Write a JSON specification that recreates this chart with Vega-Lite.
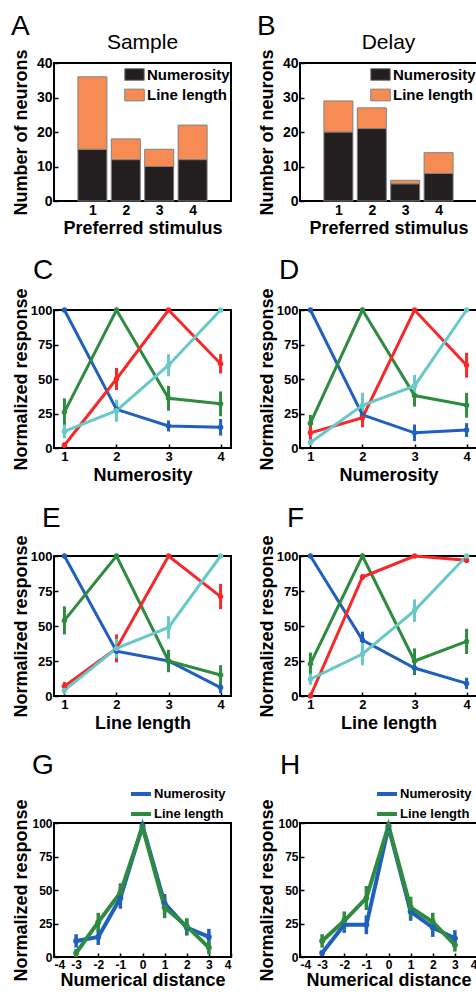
{
  "$schema": "https://vega.github.io/schema/vega-lite/v6.json",
  "background": "white",
  "padding": {"left": 10, "top": 12, "right": 0, "bottom": 0},
  "spacing": 18,
  "resolve": {"scale": {"color": "independent"}, "legend": {"color": "independent"}},
  "config": {
    "view": {"stroke": "black", "strokeWidth": 2},
    "font": "Liberation Sans",
    "title": {"font": "Liberation Sans", "fontSize": 28, "fontWeight": "normal", "anchor": "start", "frame": "bounds", "color": "black", "offset": 2},
    "axis": {"labelFont": "Liberation Sans", "labelFontWeight": "bold", "labelColor": "black", "titleFont": "Liberation Sans", "titleFontWeight": "bold", "titleFontSize": 18, "titleColor": "black", "grid": false, "domain": false, "tickSize": -4, "tickColor": "black", "tickWidth": 1.5, "labelPadding": 6},
    "axisY": {"minExtent": 22, "maxExtent": 22, "titlePadding": 2},
    "axisX": {"minExtent": 16, "maxExtent": 16, "titlePadding": 2},
    "legend": {"labelFont": "Liberation Sans", "labelFontWeight": "bold", "labelColor": "black", "title": null, "padding": 0}
  },
  "datasets": {
    "bars_sample": [
      {"stim": 1, "type": "Numerosity", "n": 15}, {"stim": 1, "type": "Line length", "n": 21},
      {"stim": 2, "type": "Numerosity", "n": 12}, {"stim": 2, "type": "Line length", "n": 6},
      {"stim": 3, "type": "Numerosity", "n": 10}, {"stim": 3, "type": "Line length", "n": 5},
      {"stim": 4, "type": "Numerosity", "n": 12}, {"stim": 4, "type": "Line length", "n": 10}
    ],
    "bars_delay": [
      {"stim": 1, "type": "Numerosity", "n": 20}, {"stim": 1, "type": "Line length", "n": 9},
      {"stim": 2, "type": "Numerosity", "n": 21}, {"stim": 2, "type": "Line length", "n": 6},
      {"stim": 3, "type": "Numerosity", "n": 5}, {"stim": 3, "type": "Line length", "n": 1},
      {"stim": 4, "type": "Numerosity", "n": 8}, {"stim": 4, "type": "Line length", "n": 6}
    ],
    "num_sample": [
      {"pref": 1, "s": 1, "v": 100, "e": 0}, {"pref": 1, "s": 2, "v": 28, "e": 5}, {"pref": 1, "s": 3, "v": 16, "e": 4}, {"pref": 1, "s": 4, "v": 15, "e": 6},
      {"pref": 2, "s": 1, "v": 26, "e": 10}, {"pref": 2, "s": 2, "v": 100, "e": 0}, {"pref": 2, "s": 3, "v": 36, "e": 9}, {"pref": 2, "s": 4, "v": 32, "e": 9},
      {"pref": 3, "s": 1, "v": 2, "e": 2}, {"pref": 3, "s": 2, "v": 50, "e": 8}, {"pref": 3, "s": 3, "v": 100, "e": 0}, {"pref": 3, "s": 4, "v": 61, "e": 7},
      {"pref": 4, "s": 1, "v": 12, "e": 5}, {"pref": 4, "s": 2, "v": 27, "e": 8}, {"pref": 4, "s": 3, "v": 60, "e": 8}, {"pref": 4, "s": 4, "v": 100, "e": 0}
    ],
    "num_delay": [
      {"pref": 1, "s": 1, "v": 100, "e": 0}, {"pref": 1, "s": 2, "v": 24, "e": 3}, {"pref": 1, "s": 3, "v": 11, "e": 6}, {"pref": 1, "s": 4, "v": 13, "e": 5},
      {"pref": 2, "s": 1, "v": 18, "e": 6}, {"pref": 2, "s": 2, "v": 100, "e": 0}, {"pref": 2, "s": 3, "v": 38, "e": 8}, {"pref": 2, "s": 4, "v": 31, "e": 9},
      {"pref": 3, "s": 1, "v": 11, "e": 5}, {"pref": 3, "s": 2, "v": 22, "e": 7}, {"pref": 3, "s": 3, "v": 100, "e": 0}, {"pref": 3, "s": 4, "v": 60, "e": 9},
      {"pref": 4, "s": 1, "v": 4, "e": 2}, {"pref": 4, "s": 2, "v": 31, "e": 9}, {"pref": 4, "s": 3, "v": 45, "e": 8}, {"pref": 4, "s": 4, "v": 100, "e": 0}
    ],
    "len_sample": [
      {"pref": 1, "s": 1, "v": 100, "e": 0}, {"pref": 1, "s": 2, "v": 32, "e": 6}, {"pref": 1, "s": 3, "v": 25, "e": 6}, {"pref": 1, "s": 4, "v": 6, "e": 4},
      {"pref": 2, "s": 1, "v": 54, "e": 10}, {"pref": 2, "s": 2, "v": 100, "e": 0}, {"pref": 2, "s": 3, "v": 25, "e": 8}, {"pref": 2, "s": 4, "v": 15, "e": 7},
      {"pref": 3, "s": 1, "v": 7, "e": 3}, {"pref": 3, "s": 2, "v": 34, "e": 10}, {"pref": 3, "s": 3, "v": 100, "e": 0}, {"pref": 3, "s": 4, "v": 71, "e": 9},
      {"pref": 4, "s": 1, "v": 4, "e": 3}, {"pref": 4, "s": 2, "v": 34, "e": 7}, {"pref": 4, "s": 3, "v": 49, "e": 8}, {"pref": 4, "s": 4, "v": 100, "e": 0}
    ],
    "len_delay": [
      {"pref": 1, "s": 1, "v": 100, "e": 0}, {"pref": 1, "s": 2, "v": 40, "e": 6}, {"pref": 1, "s": 3, "v": 20, "e": 5}, {"pref": 1, "s": 4, "v": 9, "e": 4},
      {"pref": 2, "s": 1, "v": 23, "e": 8}, {"pref": 2, "s": 2, "v": 100, "e": 0}, {"pref": 2, "s": 3, "v": 25, "e": 9}, {"pref": 2, "s": 4, "v": 39, "e": 9},
      {"pref": 3, "s": 1, "v": 0, "e": 1}, {"pref": 3, "s": 2, "v": 85, "e": 2}, {"pref": 3, "s": 3, "v": 100, "e": 1}, {"pref": 3, "s": 4, "v": 97, "e": 2},
      {"pref": 4, "s": 1, "v": 12, "e": 4}, {"pref": 4, "s": 2, "v": 30, "e": 8}, {"pref": 4, "s": 3, "v": 61, "e": 8}, {"pref": 4, "s": 4, "v": 100, "e": 1}
    ],
    "dist_sample": [
      {"stim": "Numerosity", "d": -3, "v": 12, "e": 5}, {"stim": "Numerosity", "d": -2, "v": 15, "e": 6}, {"stim": "Numerosity", "d": -1, "v": 44, "e": 8}, {"stim": "Numerosity", "d": 0, "v": 98, "e": 2}, {"stim": "Numerosity", "d": 1, "v": 40, "e": 7}, {"stim": "Numerosity", "d": 2, "v": 22, "e": 6}, {"stim": "Numerosity", "d": 3, "v": 15, "e": 6},
      {"stim": "Line length", "d": -3, "v": 3, "e": 3}, {"stim": "Line length", "d": -2, "v": 26, "e": 7}, {"stim": "Line length", "d": -1, "v": 48, "e": 7}, {"stim": "Line length", "d": 0, "v": 97, "e": 2}, {"stim": "Line length", "d": 1, "v": 37, "e": 8}, {"stim": "Line length", "d": 2, "v": 23, "e": 6}, {"stim": "Line length", "d": 3, "v": 7, "e": 5}
    ],
    "dist_delay": [
      {"stim": "Numerosity", "d": -3, "v": 3, "e": 2}, {"stim": "Numerosity", "d": -2, "v": 24, "e": 6}, {"stim": "Numerosity", "d": -1, "v": 24, "e": 7}, {"stim": "Numerosity", "d": 0, "v": 97, "e": 2}, {"stim": "Numerosity", "d": 1, "v": 34, "e": 7}, {"stim": "Numerosity", "d": 2, "v": 22, "e": 7}, {"stim": "Numerosity", "d": 3, "v": 14, "e": 6},
      {"stim": "Line length", "d": -3, "v": 12, "e": 5}, {"stim": "Line length", "d": -2, "v": 27, "e": 7}, {"stim": "Line length", "d": -1, "v": 44, "e": 9}, {"stim": "Line length", "d": 0, "v": 98, "e": 2}, {"stim": "Line length", "d": 1, "v": 37, "e": 8}, {"stim": "Line length", "d": 2, "v": 26, "e": 7}, {"stim": "Line length", "d": 3, "v": 9, "e": 5}
    ]
  },
  "vconcat": [
    {
      "spacing": 24,
      "resolve": {"scale": {"color": "independent"}, "legend": {"color": "independent"}},
      "hconcat": [
        {
          "title": {"text": "A", "offset": -10},
          "resolve": {"scale": {"color": "independent"}, "legend": {"color": "independent"}},
          "vconcat": [
            {
              "title": {"text": "Sample", "fontSize": 21, "anchor": "middle", "frame": "group", "offset": -4},
              "width": 177, "height": 138,
              "data": {"name": "bars_sample"},
              "mark": {"type": "bar", "width": 29, "stroke": "#808080", "strokeWidth": 1},
              "encoding": {
                "x": {"field": "stim", "type": "quantitative", "scale": {"domain": [0, 5], "nice": false}, "axis": {"values": [1, 2, 3, 4], "title": "Preferred stimulus", "labelFontSize": 14}},
                "y": {"field": "n", "type": "quantitative", "stack": "zero", "scale": {"domain": [0, 40]}, "axis": {"values": [0, 10, 20, 30, 40], "title": "Number of neurons", "labelFontSize": 14}},
                "color": {"field": "type", "type": "nominal", "scale": {"domain": ["Numerosity", "Line length"], "range": ["#231f20", "#f68c53"]},
                  "legend": {"orient": "top-right", "offset": 1, "symbolType": "M-1,-0.6H1V0.6H-1Z", "symbolSize": 380, "symbolStrokeColor": "#808080", "symbolStrokeWidth": 1, "symbolOpacity": 1, "labelFontSize": 15, "labelOffset": 2, "rowPadding": 1.5}},
                "order": {"field": "type", "sort": "descending"}
              }
            }
          ]
        },
        {
          "title": {"text": "B", "offset": -10},
          "resolve": {"scale": {"color": "independent"}, "legend": {"color": "independent"}},
          "vconcat": [
            {
              "title": {"text": "Delay", "fontSize": 21, "anchor": "middle", "frame": "group", "offset": -4},
              "width": 177, "height": 138,
              "data": {"name": "bars_delay"},
              "mark": {"type": "bar", "width": 29, "stroke": "#808080", "strokeWidth": 1},
              "encoding": {
                "x": {"field": "stim", "type": "quantitative", "scale": {"domain": [0, 5], "nice": false}, "axis": {"values": [1, 2, 3, 4], "title": "Preferred stimulus", "labelFontSize": 14}},
                "y": {"field": "n", "type": "quantitative", "stack": "zero", "scale": {"domain": [0, 40]}, "axis": {"values": [0, 10, 20, 30, 40], "title": "Number of neurons", "labelFontSize": 14}},
                "color": {"field": "type", "type": "nominal", "scale": {"domain": ["Numerosity", "Line length"], "range": ["#231f20", "#f68c53"]},
                  "legend": {"orient": "top-right", "offset": 1, "symbolType": "M-1,-0.6H1V0.6H-1Z", "symbolSize": 380, "symbolStrokeColor": "#808080", "symbolStrokeWidth": 1, "symbolOpacity": 1, "labelFontSize": 15, "labelOffset": 2, "rowPadding": 1.5}},
                "order": {"field": "type", "sort": "descending"}
              }
            }
          ]
        }
      ]
    },
    {
      "spacing": 24,
      "resolve": {"scale": {"color": "independent"}, "legend": {"color": "independent"}},
      "hconcat": [
        {
          "title": {"text": "C", "frame": "bounds", "dx": 22},
          "resolve": {"scale": {"color": "independent"}, "legend": {"color": "independent"}},
          "vconcat": [
            {
              "width": 177, "height": 138,
              "data": {"name": "num_sample"},
              "encoding": {
                "x": {"field": "s", "type": "quantitative", "scale": {"domain": [0.8, 4.2], "nice": false}, "axis": {"values": [1, 2, 3, 4], "title": "Numerosity", "labelFontSize": 13}},
                "y": {"field": "v", "type": "quantitative", "scale": {"domain": [0, 100], "nice": false}, "axis": {"values": [0, 25, 50, 75, 100], "title": "Normalized response", "labelFontSize": 13}},
                "color": {"field": "pref", "type": "nominal", "scale": {"domain": [1, 2, 3, 4], "range": ["#1f5fbd", "#2e8b40", "#f5282a", "#68c9c6"]}, "legend": null}
              },
              "layer": [
                {"mark": {"type": "errorbar", "thickness": 3}, "encoding": {"yError": {"field": "e"}}},
                {"mark": {"type": "line", "strokeWidth": 3}},
                {"mark": {"type": "point", "filled": true, "size": 30, "opacity": 1}}
              ]
            }
          ]
        },
        {
          "title": {"text": "D", "frame": "bounds", "dx": 22},
          "resolve": {"scale": {"color": "independent"}, "legend": {"color": "independent"}},
          "vconcat": [
            {
              "width": 177, "height": 138,
              "data": {"name": "num_delay"},
              "encoding": {
                "x": {"field": "s", "type": "quantitative", "scale": {"domain": [0.8, 4.2], "nice": false}, "axis": {"values": [1, 2, 3, 4], "title": "Numerosity", "labelFontSize": 13}},
                "y": {"field": "v", "type": "quantitative", "scale": {"domain": [0, 100], "nice": false}, "axis": {"values": [0, 25, 50, 75, 100], "title": "Normalized response", "labelFontSize": 13}},
                "color": {"field": "pref", "type": "nominal", "scale": {"domain": [1, 2, 3, 4], "range": ["#1f5fbd", "#2e8b40", "#f5282a", "#68c9c6"]}, "legend": null}
              },
              "layer": [
                {"mark": {"type": "errorbar", "thickness": 3}, "encoding": {"yError": {"field": "e"}}},
                {"mark": {"type": "line", "strokeWidth": 3}},
                {"mark": {"type": "point", "filled": true, "size": 30, "opacity": 1}}
              ]
            }
          ]
        }
      ]
    },
    {
      "spacing": 24,
      "resolve": {"scale": {"color": "independent"}, "legend": {"color": "independent"}},
      "hconcat": [
        {
          "title": {"text": "E", "frame": "group", "dx": -12},
          "width": 177, "height": 140,
          "data": {"name": "len_sample"},
          "encoding": {
            "x": {"field": "s", "type": "quantitative", "scale": {"domain": [0.8, 4.2], "nice": false}, "axis": {"values": [1, 2, 3, 4], "title": "Line length", "labelFontSize": 13}},
            "y": {"field": "v", "type": "quantitative", "scale": {"domain": [0, 100], "nice": false}, "axis": {"values": [0, 25, 50, 75, 100], "title": "Normalized response", "labelFontSize": 13}},
            "color": {"field": "pref", "type": "nominal", "scale": {"domain": [1, 2, 3, 4], "range": ["#1f5fbd", "#2e8b40", "#f5282a", "#68c9c6"]}, "legend": null}
          },
          "layer": [
            {"mark": {"type": "errorbar", "thickness": 3}, "encoding": {"yError": {"field": "e"}}},
            {"mark": {"type": "line", "strokeWidth": 3}},
            {"mark": {"type": "point", "filled": true, "size": 30, "opacity": 1}}
          ]
        },
        {
          "title": {"text": "F", "frame": "group", "dx": -13},
          "width": 177, "height": 140,
          "data": {"name": "len_delay"},
          "encoding": {
            "x": {"field": "s", "type": "quantitative", "scale": {"domain": [0.8, 4.2], "nice": false}, "axis": {"values": [1, 2, 3, 4], "title": "Line length", "labelFontSize": 13}},
            "y": {"field": "v", "type": "quantitative", "scale": {"domain": [0, 100], "nice": false}, "axis": {"values": [0, 25, 50, 75, 100], "title": "Normalized response", "labelFontSize": 13}},
            "color": {"field": "pref", "type": "nominal", "scale": {"domain": [1, 2, 3, 4], "range": ["#1f5fbd", "#2e8b40", "#f5282a", "#68c9c6"]}, "legend": null}
          },
          "layer": [
            {"mark": {"type": "errorbar", "thickness": 3}, "encoding": {"yError": {"field": "e"}}},
            {"mark": {"type": "line", "strokeWidth": 3}},
            {"mark": {"type": "point", "filled": true, "size": 30, "opacity": 1}}
          ]
        }
      ]
    },
    {
      "spacing": 23,
      "resolve": {"scale": {"color": "independent"}, "legend": {"color": "independent"}},
      "hconcat": [
        {
          "title": {"text": "G", "dx": 20},
          "width": 177, "height": 134,
          "data": {"name": "dist_sample"},
          "encoding": {
            "x": {"field": "d", "type": "quantitative", "scale": {"domain": [-4, 4], "nice": false}, "axis": {"values": [-4, -3, -2, -1, 0, 1, 2, 3, 4], "title": "Numerical distance", "titleFontSize": 18, "labelFontSize": 12, "labelExpr": "datum.value < 0 ? '-' + abs(datum.value) : '' + datum.value", "minExtent": 14, "maxExtent": 14, "titlePadding": 0}},
            "y": {"field": "v", "type": "quantitative", "scale": {"domain": [0, 100], "nice": false}, "axis": {"values": [0, 25, 50, 75, 100], "title": "Normalized response", "labelFontSize": 12}},
            "color": {"field": "stim", "type": "nominal", "scale": {"domain": ["Numerosity", "Line length"], "range": ["#1f5fbd", "#2e8b40"]},
              "legend": {"orient": "none", "legendX": 75, "legendY": -41, "symbolType": "stroke", "symbolStrokeWidth": 4, "symbolSize": 400, "labelFontSize": 13, "labelOffset": 1, "rowPadding": -1}}
          },
          "layer": [
            {"mark": {"type": "errorbar", "thickness": 3.5}, "encoding": {"yError": {"field": "e"}}},
            {"mark": {"type": "line", "strokeWidth": 4}},
            {"mark": {"type": "point", "filled": true, "size": 35, "opacity": 1}}
          ]
        },
        {
          "title": {"text": "H", "dx": 22},
          "width": 177, "height": 134,
          "data": {"name": "dist_delay"},
          "encoding": {
            "x": {"field": "d", "type": "quantitative", "scale": {"domain": [-4, 4], "nice": false}, "axis": {"values": [-4, -3, -2, -1, 0, 1, 2, 3, 4], "title": "Numerical distance", "titleFontSize": 18, "labelFontSize": 12, "labelExpr": "datum.value < 0 ? '-' + abs(datum.value) : '' + datum.value", "minExtent": 14, "maxExtent": 14, "titlePadding": 0}},
            "y": {"field": "v", "type": "quantitative", "scale": {"domain": [0, 100], "nice": false}, "axis": {"values": [0, 25, 50, 75, 100], "title": "Normalized response", "labelFontSize": 12}},
            "color": {"field": "stim", "type": "nominal", "scale": {"domain": ["Numerosity", "Line length"], "range": ["#1f5fbd", "#2e8b40"]},
              "legend": {"orient": "none", "legendX": 75, "legendY": -41, "symbolType": "stroke", "symbolStrokeWidth": 4, "symbolSize": 400, "labelFontSize": 13, "labelOffset": 1, "rowPadding": -1}}
          },
          "layer": [
            {"mark": {"type": "errorbar", "thickness": 3.5}, "encoding": {"yError": {"field": "e"}}},
            {"mark": {"type": "line", "strokeWidth": 4}},
            {"mark": {"type": "point", "filled": true, "size": 35, "opacity": 1}}
          ]
        }
      ]
    }
  ]
}
